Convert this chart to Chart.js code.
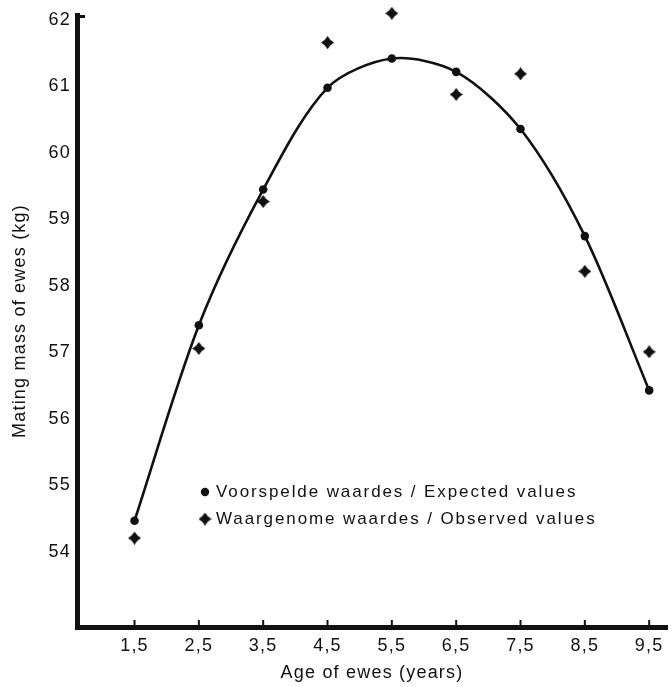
<!DOCTYPE html>
<html lang="en">
<head>
<meta charset="UTF-8">
<title>Mating mass of ewes</title>
<script src="https://cdn.jsdelivr.net/npm/chart.js"></script>
<style>
    html, body { margin: 0; padding: 0; background: #fff; }
</style>
</head>
<body>
<canvas id="ewesChart" width="672" height="687"></canvas>

<script>
    // values
    const ages = [1.5, 2.5, 3.5, 4.5, 5.5, 6.5, 7.5, 8.5, 9.5];
    const ageLabels = ['1,5', '2,5', '3,5', '4,5', '5,5', '6,5', '7,5', '8,5', '9,5'];
    const expectedMass = [54.47, 57.41, 59.45, 60.98, 61.42, 61.22, 60.36, 58.75, 56.43];
    const observedMass = [54.21, 57.06, 59.27, 61.66, 62.10, 60.88, 61.19, 58.22, 57.01];
    const massTicks = [54, 55, 56, 57, 58, 59, 60, 61, 62];
    const seriesNames = ['Voorspelde waardes / Expected values', 'Waargenome waardes / Observed values'];

    const ink = '#111';
    const family = '"Liberation Sans", Arial, Helvetica, sans-serif';

    // four pointed star used for the observed values
    function makeStar(size) {
        const c = document.createElement('canvas');
        c.width = c.height = size;
        const g = c.getContext('2d');
        const m = size / 2, k = size * 0.22;
        g.beginPath();
        g.moveTo(m, 0);
        g.lineTo(m + k, m - k);
        g.lineTo(size, m);
        g.lineTo(m + k, m + k);
        g.lineTo(m, size);
        g.lineTo(m - k, m + k);
        g.lineTo(0, m);
        g.lineTo(m - k, m - k);
        g.closePath();
        g.fillStyle = ink;
        g.fill();
        return c;
    }
    const star = makeStar(13);

    const spacing = {
        id: 'spacing',
        beforeDraw(chart) { chart.ctx.letterSpacing = '1.2px'; },
        afterDraw(chart) { chart.ctx.letterSpacing = '0px'; }
    };

    const axisMarks = {
        id: 'axisMarks',
        afterDraw(chart) {
            const { ctx, chartArea, scales: { x } } = chart;
            ctx.save();
            ctx.strokeStyle = ink;
            ctx.lineWidth = 2;
            ages.forEach(a => {
                const px = x.getPixelForValue(a);
                ctx.beginPath();
                ctx.moveTo(px, chartArea.bottom - 2);
                ctx.lineTo(px, chartArea.bottom - 7);
                ctx.stroke();
            });
            // little stub at the top of the y axis
            ctx.lineWidth = 3;
            ctx.beginPath();
            ctx.moveTo(chartArea.left, chartArea.top + 1.5);
            ctx.lineTo(chartArea.left + 8, chartArea.top + 1.5);
            ctx.stroke();
            ctx.restore();
        }
    };

    const insideLegend = {
        id: 'insideLegend',
        afterDraw(chart) {
            const ctx = chart.ctx;
            ctx.save();
            ctx.fillStyle = ink;
            ctx.font = '17px ' + family;
            ctx.letterSpacing = '1.9px';
            ctx.textBaseline = 'middle';
            ctx.textAlign = 'left';
            // expected
            ctx.beginPath();
            ctx.arc(205, 492, 4.2, 0, Math.PI * 2);
            ctx.fill();
            ctx.fillText(seriesNames[0], 216, 492);
            // observed
            ctx.drawImage(star, 205 - 6.5, 519 - 6.5);
            ctx.fillText(seriesNames[1], 216, 519);
            ctx.restore();
        }
    };

    const ctx = document.getElementById('ewesChart').getContext('2d');
    new Chart(ctx, {
        type: 'scatter',
        data: {
            datasets: [{
                label: seriesNames[0],
                data: ages.map((a, i) => ({ x: a, y: expectedMass[i] })),
                showLine: true,
                tension: 0.3,
                borderColor: ink,
                borderWidth: 2.6,
                backgroundColor: ink,
                pointStyle: 'circle',
                pointRadius: 4.3,
                pointBorderWidth: 0,
                clip: false
            }, {
                label: seriesNames[1],
                data: ages.map((a, i) => ({ x: a, y: observedMass[i] })),
                showLine: false,
                pointStyle: star,
                clip: false
            }]
        },
        options: {
            responsive: false,
            animation: false,
            layout: { padding: { top: 15, right: 0, bottom: 0, left: 0 } },
            plugins: {
                legend: { display: false },
                tooltip: { enabled: false }
            },
            scales: {
                x: {
                    type: 'linear',
                    min: 0.606,
                    max: 9.777,
                    afterBuildTicks: s => { s.ticks = ages.map(v => ({ value: v })); },
                    afterFit: s => { s.height = 60; },
                    grid: { drawOnChartArea: false, drawTicks: false },
                    border: { display: true, color: ink, width: 5 },
                    ticks: {
                        autoSkip: false,
                        maxRotation: 0,
                        padding: 10,
                        color: ink,
                        font: { family: family, size: 18, lineHeight: 1 },
                        callback: (v, i) => ageLabels[i]
                    },
                    title: {
                        display: true,
                        text: 'Age of ewes (years)',
                        color: ink,
                        font: { family: family, size: 18 },
                        padding: { top: 0, bottom: 3 }
                    }
                },
                y: {
                    min: 52.872,
                    max: 62.075,
                    afterBuildTicks: s => { s.ticks = massTicks.map(v => ({ value: v })); },
                    afterFit: s => { s.width = 77; },
                    grid: { drawOnChartArea: false, drawTicks: false },
                    border: { display: true, color: ink, width: 5 },
                    ticks: {
                        padding: 6,
                        color: ink,
                        font: { family: family, size: 18, lineHeight: 1 },
                        callback: v => String(v)
                    },
                    title: {
                        display: true,
                        text: 'Mating mass of ewes (kg)',
                        color: ink,
                        font: { family: family, size: 18 },
                        padding: { top: 9, bottom: 0 }
                    }
                }
            }
        },
        plugins: [spacing, axisMarks, insideLegend]
    });
</script>
</body>
</html>
